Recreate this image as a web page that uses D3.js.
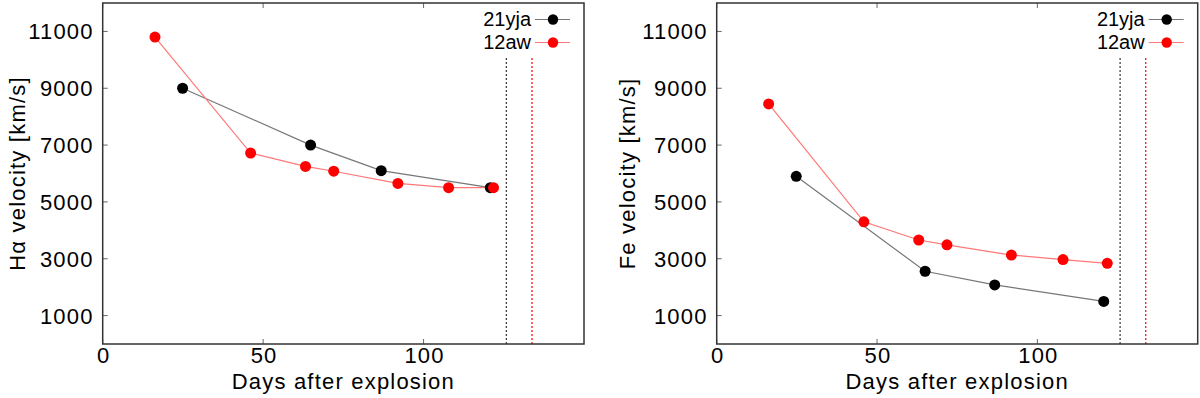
<!DOCTYPE html>
<html>
<head>
<meta charset="utf-8">
<script src="https://cdn.jsdelivr.net/npm/d3@7"></script>
<style>
  body { margin: 0; background: #fff; }
  svg text { font-family: "Liberation Sans", Arial, sans-serif; fill: #000; }
  .big { font-size: 22px; letter-spacing: 1.2px; }
</style>
</head>
<body>
<div id="chart"></div>
<script>
// Days after explosion
const haDays21yja = [24.9, 64.8, 86.8, 120.8];
const haVel21yja = [9000, 7000, 6100, 5500];
const haDays12aw = [16.3, 46.1, 63.2, 72.0, 92.0, 107.8, 121.8];
const haVel12aw = [10800, 6720, 6250, 6080, 5650, 5500, 5500];

const feDays21yja = [24.8, 65.0, 86.7, 120.7];
const feVel21yja = [5900, 2560, 2080, 1500];
const feDays12aw = [16.2, 45.9, 63.0, 71.8, 91.9, 108.0, 121.8];
const feVel12aw = [8450, 4300, 3660, 3490, 3130, 2970, 2840];

// dotted vertical markers (end of plateau)
const vlineDays = [125.8, 133.8];
const xTicks = [0, 50, 100];
const yTicks = [1000, 3000, 5000, 7000, 9000, 11000];
const seriesNames = ["21yja", "12aw"];

const width = 1200, height = 398;
const svg = d3.select("#chart").append("svg")
    .attr("width", width)
    .attr("height", height);

const markColor = ["#000000", "#ff0000"];
const lineColor = ["#777777", "#ff7777"];

function drawPanel(left, right, ylabel, labelX, d21, v21, d12, v12) {
    const top = 3, bottom = 344;
    const x = d3.scaleLinear().domain([0, 150]).range([left, right]);
    const y = d3.scaleLinear().domain([0, 12000]).range([bottom, top]);
    const g = svg.append("g");

    // ticks (inside)
    xTicks.forEach(t => {
        g.append("line").attr("x1", x(t)).attr("x2", x(t))
            .attr("y1", bottom).attr("y2", bottom - 5)
            .attr("stroke", "#666").attr("stroke-width", 1);
        g.append("line").attr("x1", x(t)).attr("x2", x(t))
            .attr("y1", top).attr("y2", top + 5)
            .attr("stroke", "#666").attr("stroke-width", 1);
        g.append("text").attr("class", "big").attr("x", x(t) + 1).attr("y", 363)
            .attr("text-anchor", "middle").text(t);
    });
    yTicks.forEach(t => {
        g.append("line").attr("x1", left).attr("x2", left + 5)
            .attr("y1", y(t)).attr("y2", y(t))
            .attr("stroke", "#666").attr("stroke-width", 1);
        g.append("text").attr("class", "big").attr("x", left - 9).attr("y", y(t) + 8)
            .attr("text-anchor", "end").text(t);
    });

    // axis titles
    g.append("text").attr("class", "big").attr("x", (left + right) / 2).attr("y", 389)
        .attr("text-anchor", "middle")
        .text("Days after explosion");
    g.append("text").attr("class", "big")
        .attr("transform", `translate(${labelX}, ${(top + bottom) / 2}) rotate(-90)`)
        .attr("text-anchor", "middle")
        .text(ylabel);

    // dotted vertical lines
    vlineDays.forEach((d, i) => {
        g.append("line").attr("x1", x(d)).attr("x2", x(d))
            .attr("y1", 58).attr("y2", bottom)
            .attr("stroke", i === 0 ? "#333" : "#ff0000")
            .attr("stroke-width", 1.2)
            .attr("stroke-dasharray", "2,2");
    });

    const line = d3.line().x(d => x(d[0])).y(d => y(d[1]));
    const series = [
        d21.map((d, i) => [d, v21[i]]),
        d12.map((d, i) => [d, v12[i]])
    ];
    // black first, then red on top
    series.forEach((pts, s) => {
        g.append("path").datum(pts).attr("d", line)
            .attr("fill", "none").attr("stroke", lineColor[s]).attr("stroke-width", 1.2);
    });
    series.forEach((pts, s) => {
        g.selectAll(null).data(pts).enter().append("circle")
            .attr("cx", d => x(d[0])).attr("cy", d => y(d[1]))
            .attr("r", 5.5).attr("fill", markColor[s]);
    });

    // legend
    seriesNames.forEach((name, i) => {
        const ly = 19.5 + i * 23;
        g.append("text").attr("x", right - 53).attr("y", ly + 6.5)
            .attr("text-anchor", "end").style("font-size", "20px").text(name);
        g.append("line").attr("x1", right - 49).attr("x2", right - 14)
            .attr("y1", ly).attr("y2", ly)
            .attr("stroke", lineColor[i]).attr("stroke-width", 1.2);
        g.append("circle").attr("cx", right - 31).attr("cy", ly)
            .attr("r", 5.2).attr("fill", markColor[i]);
    });

    // frame
    g.append("rect").attr("x", left).attr("y", top)
        .attr("width", right - left).attr("height", bottom - top)
        .attr("fill", "none").attr("stroke", "#333").attr("stroke-width", 1.5);
}

drawPanel(102.7, 584, "H\u03b1 velocity [km/s]", 25, haDays21yja, haVel21yja, haDays12aw, haVel12aw);
drawPanel(716.7, 1197.7, "Fe velocity [km/s]", 635, feDays21yja, feVel21yja, feDays12aw, feVel12aw);
</script>
</body>
</html>
